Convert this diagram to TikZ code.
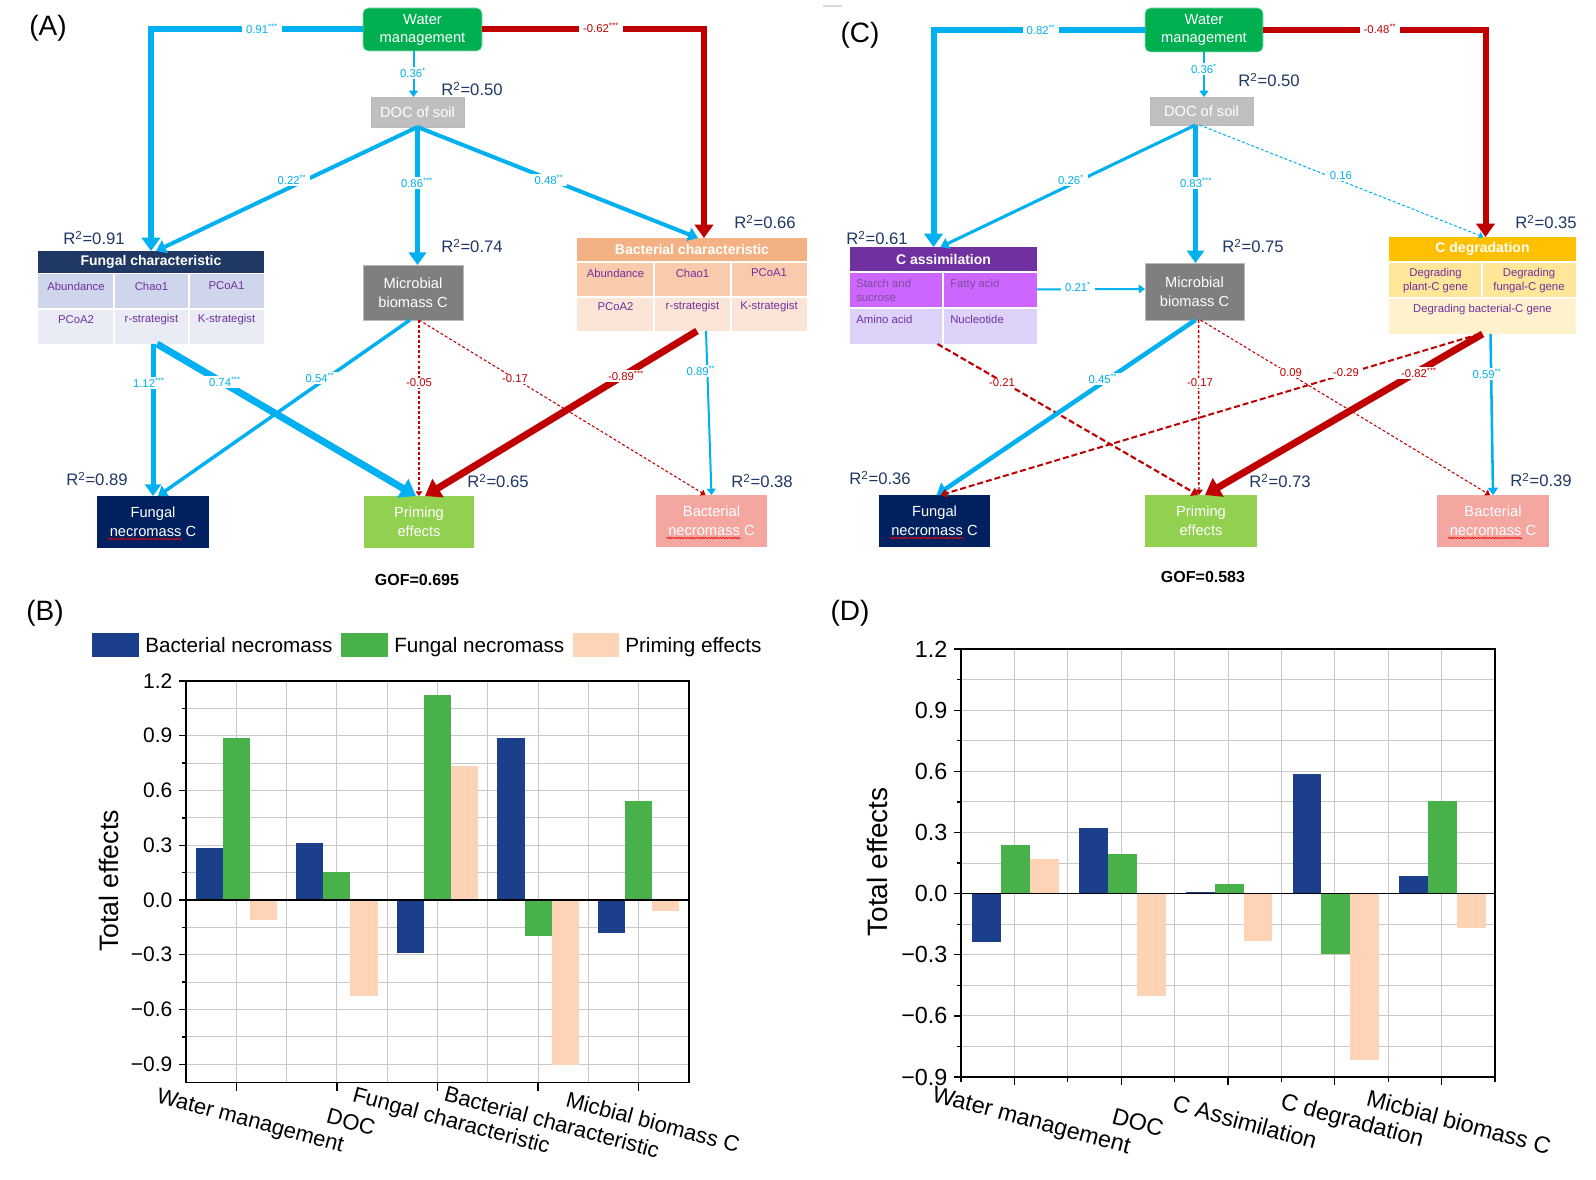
\documentclass[tikz,border=0pt]{standalone}
\usepackage{fontspec}
\setmainfont{Liberation Sans}
\usetikzlibrary{arrows.meta,calc,decorations.pathmorphing}
\definecolor{cblue}{HTML}{00B0F0}
\definecolor{cred}{HTML}{C00000}
\definecolor{navy}{HTML}{1F3864}
\definecolor{wmgreen}{HTML}{00B050}
\definecolor{docgray}{HTML}{BFBFBF}
\definecolor{mbgray}{HTML}{7F7F7F}
\definecolor{fnnavy}{HTML}{002060}
\definecolor{pegreen}{HTML}{92D050}
\definecolor{bnpink}{HTML}{F4A6A0}
\definecolor{cellpurple}{HTML}{7030A0}
\definecolor{catxt}{HTML}{7A4E9C}
\definecolor{fchead}{HTML}{1F3864}
\definecolor{fcrow1}{HTML}{CFD5EA}
\definecolor{fcrow2}{HTML}{E9EBF5}
\definecolor{bchead}{HTML}{F4B183}
\definecolor{bcrow1}{HTML}{F8CBAD}
\definecolor{bcrow2}{HTML}{FBE5D6}
\definecolor{cahead}{HTML}{7030A0}
\definecolor{carow1}{HTML}{CC66FF}
\definecolor{carow2}{HTML}{DDD3FA}
\definecolor{cdhead}{HTML}{FFC000}
\definecolor{cdrow1}{HTML}{FFE699}
\definecolor{cdrow2}{HTML}{FFF2CC}
\definecolor{barblue}{HTML}{1C3F8C}
\definecolor{bargreen}{HTML}{48B14A}
\definecolor{barpeach}{HTML}{FFD3B5}
\definecolor{gridgray}{HTML}{C8C8C8}
\newcommand\pbox[7]{\node[#6, inner sep=0pt, outer sep=0pt, minimum width={(#4-#2)*0.75pt}, minimum height={(#5-#3)*0.75pt}] (#1) at ({(#2+#4)/2},{(#3+#5)/2}) {#7};}
\newcommand\fsz[2]{\fontsize{#1pt}{#2pt}\selectfont}
\tikzset{
  atip/.style={-{Triangle[length=2pt 1.8, width=3pt 2.4]}},
  bl/.style={color=cblue, atip},
  rd/.style={color=cred, atip},
  dsh/.style={dash pattern=on 2.2pt off 1.6pt},
  dshB/.style={dash pattern=on 4.5pt off 2.2pt},
  lab/.style={fill=white, inner xsep=3pt, inner ysep=1pt, font=\fsz{8.5}{10}},
  lb/.style={lab, text=cblue},
  lr/.style={lab, text=cred},
  rsq/.style={text=navy, font=\fsz{12.5}{15}, inner sep=0pt},
  nd/.style={text=white, align=center, font=\fsz{11}{14}},
  hd/.style={text=white, font=\bfseries\fsz{10.5}{12}},
  cell/.style={text=cellpurple, font=\fsz{8.5}{11}, inner sep=0pt, align=center},
  cellsep/.style={white, line width=1pt},
  wavy/.style={red, line width=0.45pt, decorate, decoration={snake, amplitude=0.55pt, segment length=2.2pt}},
  gridln/.style={gridgray, line width=0.75pt},
  ax/.style={black, line width=1pt},
  panel/.style={font=\fsz{21}{24}, inner sep=0pt},
  gof/.style={font=\bfseries\fsz{12}{14}, inner sep=0pt},
}
\begin{document}
\begin{tikzpicture}[x=0.75pt, y=-0.75pt]
\useasboundingbox (0,0) rectangle (1596,1180);
\fill[white] (0,0) rectangle (1596,1180);

% ================= Panel A =================
\node[panel] (pA) at (48,28) {(A)};
\pbox{wmA}{363}{8}{482}{51}{fill=wmgreen, draw=wmgreen!45, rounded corners=4pt, nd, font=\fsz{11}{13.5}}{Water\\management}
\pbox{docA}{371}{97}{464}{127}{fill=docgray, draw=gray!55, nd}{DOC of soil}
\pbox{mbA}{363}{265}{463}{320}{fill=mbgray, draw=gray!55, nd}{Microbial\\biomass C}

% Fungal characteristic table
\fill[fcrow1] (38,274) rectangle (264,309);
\fill[fcrow2] (38,309) rectangle (264,344);
\draw[cellsep] (38,309) -- (264,309);
\draw[cellsep] (114,274) -- (114,344);
\draw[cellsep] (189,274) -- (189,344);
\pbox{fcAh}{38}{251}{264}{273}{fill=fchead, hd}{Fungal characteristic}
\node[cell] (fcA1) at (76,286) {Abundance};
\node[cell] (fcA2) at (151.5,286) {Chao1};
\node[cell] (fcA3) at (226.5,286) {PCoA1};
\node[cell] (fcA4) at (76,320) {PCoA2};
\node[cell] (fcA5) at (151.5,320) {r-strategist};
\node[cell] (fcA6) at (226.5,320) {K-strategist};
\pbox{fcA}{38}{251}{264}{344}{}{}

% Bacterial characteristic table
\fill[bcrow1] (577,263) rectangle (807,297);
\fill[bcrow2] (577,297) rectangle (807,331);
\draw[cellsep] (577,297) -- (807,297);
\draw[cellsep] (654,263) -- (654,331);
\draw[cellsep] (731,263) -- (731,331);
\pbox{bcAh}{577}{238}{807}{261}{fill=bchead, hd}{Bacterial characteristic}
\node[cell] (bcA1) at (615.5,273) {Abundance};
\node[cell] (bcA2) at (692.5,273) {Chao1};
\node[cell] (bcA3) at (769,273) {PCoA1};
\node[cell] (bcA4) at (615.5,307) {PCoA2};
\node[cell] (bcA5) at (692.5,307) {r-strategist};
\node[cell] (bcA6) at (769,307) {K-strategist};
\pbox{bcA}{577}{238}{807}{331}{}{}

\pbox{fnA}{97}{496}{209}{548}{fill=fnnavy, nd}{Fungal\\necromass C}
\pbox{peA}{364}{496}{474}{548}{fill=pegreen, nd}{Priming\\effects}
\pbox{bnA}{656}{495}{767}{547}{fill=bnpink, nd}{Bacterial\\necromass C}

\node[rsq] (rA1) at (472,89) {R\textsuperscript{2}=0.50};
\node[rsq] (rA2) at (94,238) {R\textsuperscript{2}=0.91};
\node[rsq] (rA3) at (472,246) {R\textsuperscript{2}=0.74};
\node[rsq] (rA4) at (765,222) {R\textsuperscript{2}=0.66};
\node[rsq] (rA5) at (97,479) {R\textsuperscript{2}=0.89};
\node[rsq] (rA6) at (498,481) {R\textsuperscript{2}=0.65};
\node[rsq] (rA7) at (762,481) {R\textsuperscript{2}=0.38};

% connectors A
\draw[bl, line width=4.5pt] (wmA.west) -| (fcA.north);
\draw[rd, line width=4.5pt] (wmA.east) -| ($(bcA.north)+(12,0)$);
\draw[bl, line width=1.5pt] ($(wmA.south)+(-9,0)$) -- ($(docA.north)+(-4,0)$);
\draw[bl, line width=3pt] (docA.south) -- ($(fcA.north)+(5,0)$);
\draw[bl, line width=4.2pt] (docA.south) -- (docA.south |- mbA.north);
\draw[bl, line width=3pt] (docA.south) -- ($(bcA.north)+(6,0)$);
\draw[bl, line width=3.75pt] (fnA.north |- fcA.south) -- (fnA.north);
\draw[bl, line width=5.25pt] ($(fcA.south)+(6,0)$) -- ($(peA.north)+(-3,0)$);
\draw[bl, line width=2.6pt] ($(mbA.south)+(-3,0)$) -- ($(fnA.north)+(5,0)$);
\draw[rd, dsh, line width=0.8pt] ($(mbA.south)+(6,0)$) -- (peA.north);
\draw[rd, dsh, line width=0.8pt] ($(mbA.south)+(6,0)$) -- ($(bnA.north)+(-6,0)$);
\draw[rd, line width=5.25pt] ($(bcA.south)+(5,0)$) -- ($(peA.north)+(6,0)$);
\draw[bl, line width=1.5pt] ($(bcA.south)+(14,0)$) -- (bnA.north);

\node[lb] (lA1) at (262,29) {0.91\textsuperscript{***}};
\node[lr] (lA2) at (601,28) {-0.62\textsuperscript{***}};
\node[lb] (lA3) at (413,73) {0.36\textsuperscript{*}};
\node[lb] (lA4) at (292,180) {0.22\textsuperscript{**}};
\node[lb] (lA5) at (417,183) {0.86\textsuperscript{***}};
\node[lb] (lA6) at (549,180) {0.48\textsuperscript{**}};
\node[lb] (lA7) at (149,383) {1.12\textsuperscript{***}};
\node[lb] (lA8) at (225,382) {0.74\textsuperscript{***}};
\node[lb] (lA9) at (320,378) {0.54\textsuperscript{**}};
\node[lr] (lA10) at (419,383) {-0.05};
\node[lr] (lA11) at (515,379) {-0.17};
\node[lr] (lA12) at (626,376) {-0.89\textsuperscript{***}};
\node[lb] (lA13) at (701,371) {0.89\textsuperscript{**}};

\node[gof] (gofA) at (417,580) {GOF=0.695};

% ================= Panel C =================
\node[panel] (pC) at (860,35) {(C)};
\draw[gray!30, line width=1.5pt] (823,6) -- (842,6);
\pbox{wmC}{1145}{8}{1263}{52}{fill=wmgreen, draw=wmgreen!45, rounded corners=4pt, nd, font=\fsz{11}{13.5}}{Water\\management}
\pbox{docC}{1150}{97}{1253}{125}{fill=docgray, draw=gray!55, nd}{DOC of soil}
\pbox{mbC}{1145}{263}{1244}{320}{fill=mbgray, draw=gray!55, nd}{Microbial\\biomass C}

% C assimilation table
\fill[carow1] (850,273) rectangle (1037,308);
\fill[carow2] (850,308) rectangle (1037,344);
\draw[cellsep] (850,308) -- (1037,308);
\draw[cellsep] (943,273) -- (943,344);
\pbox{caCh}{850}{247}{1037}{271}{fill=cahead, hd}{C assimilation}
\node[cell, text=catxt, align=left, anchor=north west, font=\fsz{8.5}{10.5}] (caC1) at (856,279) {Starch and\\sucrose};
\node[cell, text=catxt, anchor=north west] (caC2) at (950,279) {Fatty acid};
\node[cell, anchor=north west] (caC3) at (856,315) {Amino acid};
\node[cell, anchor=north west] (caC4) at (950,315) {Nucleotide};
\pbox{caC}{850}{247}{1037}{344}{}{}

% C degradation table
\fill[cdrow1] (1389,263) rectangle (1576,298);
\fill[cdrow2] (1389,298) rectangle (1576,334);
\draw[cellsep] (1389,298) -- (1576,298);
\draw[cellsep] (1482,263) -- (1482,298);
\pbox{cdCh}{1389}{237}{1576}{261}{fill=cdhead, hd}{C degradation}
\node[cell] (cdC1) at (1435.5,280.5) {Degrading\\plant-C gene};
\node[cell] (cdC2) at (1529,280.5) {Degrading\\fungal-C gene};
\node[cell] (cdC3) at (1482.5,310) {Degrading bacterial-C gene};
\pbox{cdC}{1389}{237}{1576}{334}{}{}

\pbox{fnC}{879}{495}{990}{547}{fill=fnnavy, nd}{Fungal\\necromass C}
\pbox{peC}{1145}{495}{1257}{547}{fill=pegreen, nd}{Priming\\effects}
\pbox{bnC}{1437}{495}{1549}{547}{fill=bnpink, nd}{Bacterial\\necromass C}

\node[rsq] (rC1) at (1269,80) {R\textsuperscript{2}=0.50};
\node[rsq] (rC2) at (877,238) {R\textsuperscript{2}=0.61};
\node[rsq] (rC3) at (1253,246) {R\textsuperscript{2}=0.75};
\node[rsq] (rC4) at (1546,222) {R\textsuperscript{2}=0.35};
\node[rsq] (rC5) at (880,478) {R\textsuperscript{2}=0.36};
\node[rsq] (rC6) at (1280,481) {R\textsuperscript{2}=0.73};
\node[rsq] (rC7) at (1541,480) {R\textsuperscript{2}=0.39};

% connectors C
\draw[bl, line width=4.5pt] (wmC.west) -| ($(caC.north)+(-10,0)$);
\draw[rd, line width=4.5pt] (wmC.east) -| ($(cdC.north)+(3,0)$);
\draw[bl, line width=1.5pt] (wmC.south) -- (wmC.south |- docC.north);
\draw[bl, line width=2.3pt] ($(docC.south)+(-6,0)$) -- ($(caC.north)+(-3,0)$);
\draw[bl, line width=4pt] ($(docC.south)+(-6,0)$) -- ($(mbC.north)+(1,0)$);
\draw[bl, dsh, line width=0.8pt] ($(docC.south)+(-2,0)$) -- ($(cdC.north)+(1,0)$);
\draw[bl, line width=1.5pt] ($(caC.east)+(0,-6)$) -- ($(mbC.west)+(0,-2.5)$);
\draw[rd, dshB, line width=1.6pt] ($(caC.south)+(-6,0)$) -- ($(peC.north)+(-3,0)$);
\draw[bl, line width=3.4pt] ($(mbC.south)+(1,0)$) -- ($(fnC.north)+(2,0)$);
\draw[rd, dsh, line width=1.1pt] ($(mbC.south)+(4,0)$) -- ($(peC.north)+(-2,0)$);
\draw[rd, dsh, line width=0.8pt] ($(mbC.south)+(6,0)$) -- ($(bnC.north)+(-3,0)$);
\draw[rd, dshB, line width=1.5pt] ($(cdC.south)+(-3,0)$) -- ($(fnC.north)+(6,0)$);
\draw[rd, line width=5.25pt] (cdC.south) -- ($(peC.north)+(4,0)$);
\draw[bl, line width=1.9pt] ($(cdC.south)+(8,0)$) -- (bnC.north);

\node[lb] (lC1) at (1041,30) {0.82\textsuperscript{**}};
\node[lr] (lC2) at (1380,29) {-0.48\textsuperscript{**}};
\node[lb] (lC3) at (1204,69) {0.36\textsuperscript{*}};
\node[lb] (lC4) at (1071,180) {0.26\textsuperscript{*}};
\node[lb] (lC5) at (1196,183) {0.83\textsuperscript{***}};
\node[lb] (lC6) at (1341,176) {0.16};
\node[lb] (lC7) at (1078,287) {0.21\textsuperscript{*}};
\node[lr] (lC8) at (1002,383) {-0.21};
\node[lb] (lC9) at (1103,379) {0.45\textsuperscript{**}};
\node[lr] (lC10) at (1200,383) {-0.17};
\node[lr] (lC11) at (1291,373) {0.09};
\node[lr] (lC12) at (1346,373) {-0.29};
\node[lr] (lC13) at (1419,373) {-0.82\textsuperscript{***}};
\node[lb] (lC14) at (1487,374) {0.59\textsuperscript{**}};

\node[gof] (gofC) at (1203,577) {GOF=0.583};

\foreach \n in {fnA,bnA,fnC,bnC} \draw[wavy] ($(\n.center)+(-45,17)$) -- ++(74,0);

% ================= Panel B =================
\node[panel] (pB) at (45,613) {(B)};
\fill[barblue] (92,633) rectangle (139,657);
\node[anchor=base west, font=\fsz{15.5}{18}, inner sep=0pt] (lgB1) at (145,652.5) {Bacterial necromass};
\fill[bargreen] (341,633) rectangle (388,657);
\node[anchor=base west, font=\fsz{15.5}{18}, inner sep=0pt] (lgB2) at (394,652.5) {Fungal necromass};
\fill[barpeach] (573,633) rectangle (619,657);
\node[anchor=base west, font=\fsz{15.5}{18}, inner sep=0pt] (lgB3) at (625,652.5) {Priming effects};

\begin{scope}[shift={(135.7,900)}, x=75.45pt, y=136.875pt]
  \foreach \i in {-6,...,7} \draw[gridln] (0.5,{\i*0.15}) -- (5.5,{\i*0.15});
  \foreach \i in {2,...,10} \draw[gridln] ({\i/2},-1.0) -- ({\i/2},1.2);
  \foreach \c/\b/\g/\p in {1/0.287/0.888/-0.11, 2/0.31/0.152/-0.524, 3/-0.289/1.123/0.734, 4/0.888/-0.196/-0.904, 5/-0.179/0.542/-0.058}{
    \fill[barblue] ({\c-0.405},0) rectangle ({\c-0.135},\b);
    \fill[bargreen] ({\c-0.135},0) rectangle ({\c+0.135},\g);
    \fill[barpeach] ({\c+0.135},0) rectangle ({\c+0.405},\p);
  }
  \draw[black, line width=1.1pt] (0.5,0) -- (5.5,0);
  \draw[ax] (0.5,-1.0) rectangle (5.5,1.2);
  \foreach \i in {-3,...,4} \draw[ax] (0.5,{\i*0.3}) -- ++(-5pt,0pt);
  \foreach \i in {-3,...,3} \draw[ax] (0.5,{\i*0.3+0.15}) -- ++(-3pt,0pt);
  \foreach \c in {1,...,5} \draw[ax] (\c,-1.0) -- ++(0pt,-6pt);
  \foreach \v/\t [count=\k] in {1.2/1.2,0.9/0.9,0.6/0.6,0.3/0.3,0/0.0,-0.3/−0.3,-0.6/−0.6,-0.9/−0.9}
    \node[anchor=east, font=\fsz{15.75}{18}, inner sep=0pt] (yB\k) at ([xshift=-10pt]0.5,\v) {\t};
\end{scope}
\node[rotate=90, font=\fsz{20}{24}, inner sep=0pt] (tB) at (109,881) {Total effects};
\foreach \x/\t [count=\k] in {250/Water management, 351/DOC, 451/Fungal characteristic, 552/Bacterial characteristic, 653/Micbial biomass C}
  \node[rotate=-15, font=\fsz{16.5}{19}, inner sep=0pt] (xB\k) at (\x,1122) {\t};

% ================= Panel D =================
\node[panel] (pD) at (850,613) {(D)};
\begin{scope}[shift={(907.6,893.6)}, x=80.1pt, y=152.85pt]
  \foreach \i in {-5,...,7} \draw[gridln] (0.5,{\i*0.15}) -- (5.5,{\i*0.15});
  \foreach \i in {2,...,10} \draw[gridln] ({\i/2},-0.9) -- ({\i/2},1.2);
  \foreach \c/\b/\g/\p in {1/-0.239/0.239/0.171, 2/0.322/0.195/-0.504, 3/0.008/0.049/-0.233, 4/0.588/-0.298/-0.818, 5/0.088/0.453/-0.170}{
    \fill[barblue] ({\c-0.395},0) rectangle ({\c-0.125},\b);
    \fill[bargreen] ({\c-0.125},0) rectangle ({\c+0.145},\g);
    \fill[barpeach] ({\c+0.145},0) rectangle ({\c+0.415},\p);
  }
  \draw[black, line width=1.3pt] (0.5,0) -- (5.5,0);
  \draw[ax, line width=1.3pt] (0.5,-0.9) rectangle (5.5,1.2);
  \foreach \i in {-3,...,4} \draw[ax] (0.5,{\i*0.3}) -- ++(-5pt,0pt);
  \foreach \i in {-3,...,3} \draw[ax] (0.5,{\i*0.3+0.15}) -- ++(-3pt,0pt);
  \foreach \c in {1,...,5} \draw[ax] (\c,-0.9) -- ++(0pt,-6pt);
  \foreach \i in {1,...,11} \draw[ax] ({\i/2},-0.9) -- ++(0pt,-3.5pt);
  \foreach \v/\t [count=\k] in {1.2/1.2,0.9/0.9,0.6/0.6,0.3/0.3,0/0.0,-0.3/−0.3,-0.6/−0.6,-0.9/−0.9}
    \node[anchor=east, font=\fsz{17.5}{20}, inner sep=0pt] (yD\k) at ([xshift=-10pt]0.5,\v) {\t};
\end{scope}
\node[rotate=90, font=\fsz{21}{25}, inner sep=0pt] (tD) at (877,862) {Total effects};
\foreach \x/\t [count=\k] in {1031/Water management, 1138/DOC, 1245/C Assimilation, 1352/C degradation, 1459/Micbial biomass C}
  \node[rotate=-15, font=\fsz{17.5}{20}, inner sep=0pt] (xD\k) at (\x,1122) {\t};
\end{tikzpicture}
\end{document}
